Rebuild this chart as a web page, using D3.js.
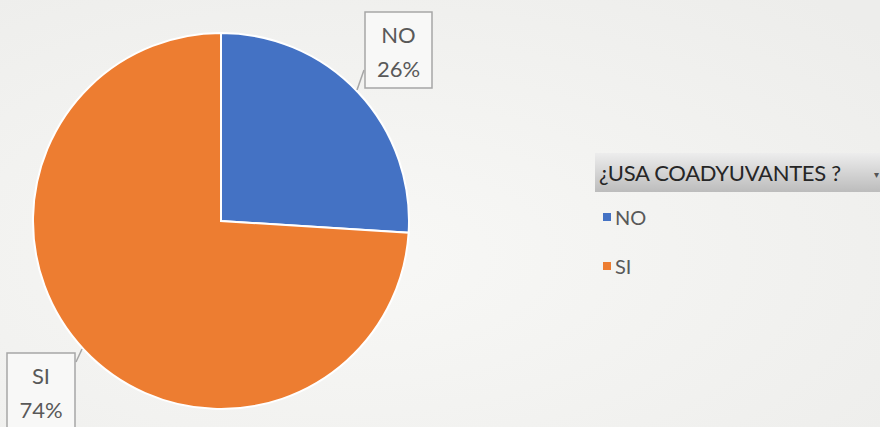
<!DOCTYPE html>
<html>
<head>
<meta charset="utf-8">
<script src="https://cdn.jsdelivr.net/npm/d3@7"></script>
<style>
body { margin: 0; background: #f4f4f2; }
svg { display: block; font-family: Lato, "Open Sans", sans-serif; }
</style>
</head>
<body>
<script>
var categories = ["NO", "SI"];
var values = [26, 74];
var colors = ["#4472c4", "#ed7d31"];
var legendTitle = "¿USA COADYUVANTES ?";

var width = 880, height = 427;
var svg = d3.select("body").append("svg")
    .attr("width", width)
    .attr("height", height);

// paper background
var defs = svg.append("defs");
var bg = defs.append("radialGradient").attr("id", "bg")
    .attr("cx", "40%").attr("cy", "60%").attr("r", "80%");
bg.append("stop").attr("offset", "0%").attr("stop-color", "#f8f8f6");
bg.append("stop").attr("offset", "100%").attr("stop-color", "#ededeb");
svg.append("rect").attr("width", width).attr("height", height).attr("fill", "url(#bg)");

var cx = 221, cy = 221, r = 188;
var pie = d3.pie().sort(null).value(function(d) { return d; });
var arc = d3.arc().innerRadius(0).outerRadius(r);
var arcs = pie(values);

var g = svg.append("g").attr("transform", "translate(" + cx + "," + cy + ")");
g.selectAll("path")
    .data(arcs)
    .enter().append("path")
    .attr("d", arc)
    .attr("fill", function(d, i) { return colors[i]; })
    .attr("stroke", "#ffffff")
    .attr("stroke-width", 2);

// data labels
var labelBoxes = [
    {x: 365, y: 12, w: 67, h: 76, line: [[364, 70], [357, 90]]},
    {x: 7, y: 353, w: 68, h: 76, line: [[76, 362], [82, 349]]}
];
labelBoxes.forEach(function(b, i) {
    svg.append("rect")
        .attr("x", b.x).attr("y", b.y)
        .attr("width", b.w).attr("height", b.h)
        .attr("fill", "#f8f8f7")
        .attr("stroke", "#a6a6a6")
        .attr("stroke-width", 1.5);
    svg.append("line")
        .attr("x1", b.line[0][0]).attr("y1", b.line[0][1])
        .attr("x2", b.line[1][0]).attr("y2", b.line[1][1])
        .attr("stroke", "#a6a6a6").attr("stroke-width", 1.5);
    svg.append("text")
        .attr("x", b.x + b.w / 2).attr("y", b.y + 31)
        .attr("text-anchor", "middle")
        .attr("font-size", 22).attr("fill", "#595959")
        .text(categories[i]);
    svg.append("text")
        .attr("x", b.x + b.w / 2).attr("y", b.y + 65)
        .attr("text-anchor", "middle")
        .attr("font-size", 22).attr("fill", "#595959")
        .text(Math.round(arcs[i].value / d3.sum(values) * 100) + "%");
});

// legend header
var hg = defs.append("linearGradient").attr("id", "hdr")
    .attr("x1", 0).attr("y1", 0).attr("x2", 0).attr("y2", 1);
hg.append("stop").attr("offset", "0%").attr("stop-color", "#ededed");
hg.append("stop").attr("offset", "100%").attr("stop-color", "#bcbcbc");
svg.append("rect")
    .attr("x", 595).attr("y", 153)
    .attr("width", 290).attr("height", 39)
    .attr("fill", "url(#hdr)");
svg.append("text")
    .attr("x", 599).attr("y", 181)
    .attr("font-size", 22).attr("fill", "#262626")
    .attr("letter-spacing", -0.3)
    .text(legendTitle);
svg.append("text")
    .attr("x", 874).attr("y", 178)
    .attr("font-size", 10).attr("fill", "#555")
    .text("▾");

var legend = svg.selectAll("g.leg")
    .data(categories)
    .enter().append("g")
    .attr("class", "leg")
    .attr("transform", function(d, i) { return "translate(603," + (213 + i * 49) + ")"; });
legend.append("rect")
    .attr("width", 8).attr("height", 8)
    .attr("fill", function(d, i) { return colors[i]; });
legend.append("text")
    .attr("x", 12).attr("y", 12)
    .attr("font-size", 20).attr("fill", "#595959")
    .text(function(d) { return d; });
</script>
</body>
</html>
